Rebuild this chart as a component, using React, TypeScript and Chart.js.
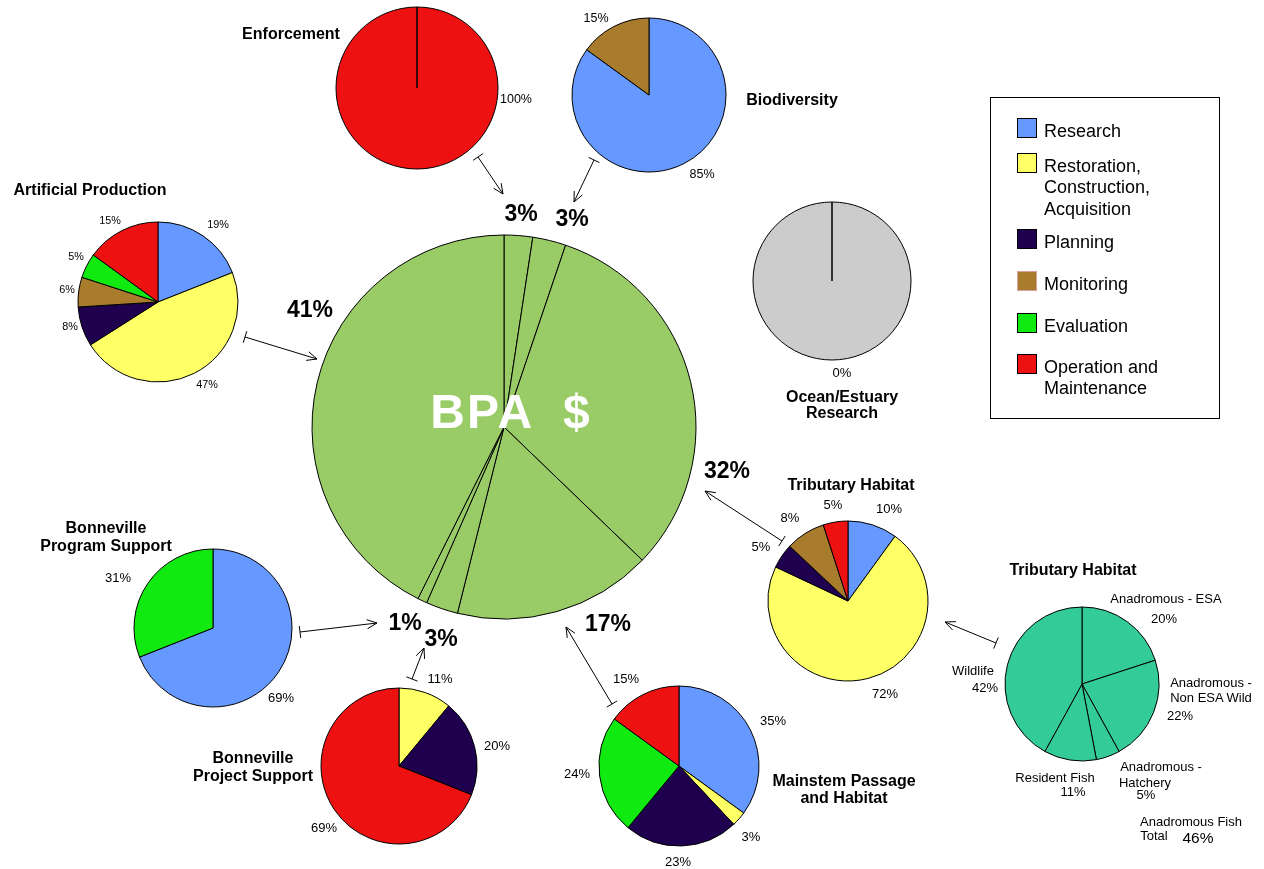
import React, { useEffect, useRef } from "react";
import { Chart, registerables } from "chart.js";

Chart.register(...registerables);

// ---------------- DATA ----------------
const activityCategories = [
  "Research",
  "Restoration, Construction, Acquisition",
  "Planning",
  "Monitoring",
  "Evaluation",
  "Operation and Maintenance",
];
const activityLegendText = [
  "Research",
  "Restoration,\nConstruction,\nAcquisition",
  "Planning",
  "Monitoring",
  "Evaluation",
  "Operation and\nMaintenance",
];
const activityColors = ["#6699FF", "#FFFF66", "#1F004F", "#A87C2C", "#10EA10", "#EE1111"];

// Share of BPA $ by program (clockwise from 12 o'clock)
const mainCategories = [
  "Enforcement",
  "Biodiversity",
  "Tributary Habitat",
  "Mainstem Passage and Habitat",
  "Bonneville Project Support",
  "Bonneville Program Support",
  "Artificial Production",
];
const mainValues = [2.4, 2.8, 32.0, 16.7, 2.7, 0.8, 42.6];
const mainLabels = ["3%", "3%", "32%", "17%", "3%", "1%", "41%"];

const enforcementCats = ["Operation and Maintenance"];
const enforcementValues = [100];

const biodiversityCats = ["Research", "Monitoring"];
const biodiversityValues = [85, 15];

const oceanCats = ["Research"];
const oceanValues = [0];

const artificialCats = [
  "Research",
  "Restoration, Construction, Acquisition",
  "Planning",
  "Monitoring",
  "Evaluation",
  "Operation and Maintenance",
];
const artificialValues = [19, 47, 8, 6, 5, 15];

const programSupportCats = ["Research", "Evaluation"];
const programSupportValues = [69, 31];

const projectSupportCats = ["Restoration, Construction, Acquisition", "Planning", "Operation and Maintenance"];
const projectSupportValues = [11, 20, 69];

const mainstemCats = [
  "Research",
  "Restoration, Construction, Acquisition",
  "Planning",
  "Evaluation",
  "Operation and Maintenance",
];
const mainstemValues = [35, 3, 23, 24, 15];

const tributaryCats = [
  "Research",
  "Restoration, Construction, Acquisition",
  "Planning",
  "Monitoring",
  "Operation and Maintenance",
];
const tributaryValues = [10, 72, 5, 8, 5];

const fishCategories = [
  "Anadromous - ESA",
  "Anadromous - Non ESA Wild",
  "Anadromous - Hatchery",
  "Resident Fish",
  "Wildlife",
];
const fishValues = [20, 22, 5, 11, 42];
const anadromousTotal = 46;

// ---------------- STYLE ----------------
const FONT = "'Liberation Sans', Arial, Helvetica, sans-serif";
const MAIN_GREEN = "#99CC66";
const FISH_TEAL = "#33CC99";
const EMPTY_GRAY = "#CCCCCC";

const colorsFor = (cats: string[]) => cats.map((c) => activityColors[activityCategories.indexOf(c)]);
const pct = (v: number) => `${v}%`;

// ---------------- COMPONENTS ----------------
type PieProps = {
  cx: number;
  cy: number;
  r: number;
  labels: string[];
  values: number[];
  colors: string[];
};

function Pie({ cx, cy, r, labels, values, colors }: PieProps) {
  const ref = useRef<HTMLCanvasElement>(null);
  const size = 2 * r + 8;
  useEffect(() => {
    const total = values.reduce((a, b) => a + b, 0);
    const chart = new Chart(ref.current as HTMLCanvasElement, {
      type: "pie",
      data: {
        labels,
        datasets: [
          {
            data: total > 0 ? values : [1],
            backgroundColor: total > 0 ? colors : [EMPTY_GRAY],
            borderColor: "#000000",
            borderWidth: 1,
            radius: r,
          } as any,
        ],
      },
      options: {
        responsive: false,
        animation: false,
        devicePixelRatio: 1,
        events: [],
        layout: { padding: 0 },
        plugins: { legend: { display: false }, tooltip: { enabled: false } },
      },
    });
    return () => chart.destroy();
  }, []);
  return (
    <canvas
      ref={ref}
      width={size}
      height={size}
      style={{ position: "absolute", left: cx - size / 2, top: cy - size / 2, width: size, height: size }}
    />
  );
}

type TxtProps = {
  x: number;
  y: number;
  text: string;
  size?: number;
  bold?: boolean;
  color?: string;
  lh?: number;
  ls?: number;
};
function Txt({ x, y, text, size = 13, bold = false, color = "#000", lh = 1.15, ls = 0 }: TxtProps) {
  return (
    <div
      style={{
        position: "absolute",
        left: x,
        top: y,
        transform: "translate(-50%, -50%)",
        fontFamily: FONT,
        fontSize: size,
        fontWeight: bold ? 700 : 400,
        color,
        whiteSpace: "pre",
        textAlign: "center",
        lineHeight: lh,
        letterSpacing: ls,
      }}
    >
      {text}
    </div>
  );
}

function Arrow({ x1, y1, x2, y2 }: { x1: number; y1: number; x2: number; y2: number }) {
  const dx = x2 - x1;
  const dy = y2 - y1;
  const L = Math.hypot(dx, dy);
  const ux = dx / L;
  const uy = dy / L;
  const px = -uy;
  const py = ux;
  const t = 6;
  const ah = 10;
  const aw = 4.5;
  return (
    <g stroke="#000" strokeWidth={1} fill="none">
      <line x1={x1} y1={y1} x2={x2} y2={y2} />
      <line x1={x1 + px * t} y1={y1 + py * t} x2={x1 - px * t} y2={y1 - py * t} />
      <polyline
        points={`${x2 - ux * ah + px * aw},${y2 - uy * ah + py * aw} ${x2},${y2} ${x2 - ux * ah - px * aw},${
          y2 - uy * ah - py * aw
        }`}
      />
    </g>
  );
}

// ---------------- LAYOUT (positions of pies and texts) ----------------
const pies = {
  main: { cx: 504, cy: 427, r: 192 },
  enforcement: { cx: 417, cy: 88, r: 81 },
  biodiversity: { cx: 649, cy: 95, r: 77 },
  ocean: { cx: 832, cy: 281, r: 79 },
  artificial: { cx: 158, cy: 302, r: 80 },
  program: { cx: 213, cy: 628, r: 79 },
  project: { cx: 399, cy: 766, r: 78 },
  mainstem: { cx: 679, cy: 766, r: 80 },
  tributary: { cx: 848, cy: 601, r: 80 },
  fish: { cx: 1082, cy: 684, r: 77 },
};

const mainLabelPos = [
  [521, 213],
  [572, 218],
  [727, 470],
  [608, 623],
  [441, 638],
  [405, 622],
  [310, 309],
];

const enforcementLabelPos = [[516, 99]];
const biodiversityLabelPos = [
  [702, 174],
  [596, 18],
];
const oceanLabelPos = [[842, 373]];
const artificialLabelPos = [
  [218, 224],
  [207, 384],
  [70, 326],
  [67, 289],
  [76, 256],
  [110, 220],
];
const programLabelPos = [
  [281, 698],
  [118, 578],
];
const projectLabelPos = [
  [440, 679],
  [497, 746],
  [324, 828],
];
const mainstemLabelPos = [
  [773, 721],
  [751, 837],
  [678, 862],
  [577, 774],
  [626, 679],
];
const tributaryLabelPos = [
  [889, 509],
  [885, 694],
  [761, 547],
  [790, 518],
  [833, 505],
];

const titles = [
  { text: "Enforcement", x: 291, y: 34 },
  { text: "Biodiversity", x: 792, y: 100 },
  { text: "Artificial Production", x: 90, y: 190 },
  { text: "Ocean/Estuary\nResearch", x: 842, y: 405, lh: 1.0 },
  { text: "Tributary Habitat", x: 851, y: 485 },
  { text: "Tributary Habitat", x: 1073, y: 570 },
  { text: "Bonneville\nProgram Support", x: 106, y: 537, lh: 1.125 },
  { text: "Bonneville\nProject Support", x: 253, y: 767, lh: 1.125 },
  { text: "Mainstem Passage\nand Habitat", x: 844, y: 790, lh: 1.05 },
];

const arrows = [
  { x1: 478, y1: 157, x2: 503, y2: 194 },
  { x1: 594, y1: 160, x2: 574, y2: 202 },
  { x1: 245, y1: 337, x2: 317, y2: 359 },
  { x1: 782, y1: 541, x2: 705, y2: 491 },
  { x1: 996, y1: 643, x2: 945, y2: 622 },
  { x1: 612, y1: 704, x2: 566, y2: 627 },
  { x1: 300, y1: 632, x2: 377, y2: 623 },
  { x1: 412, y1: 679, x2: 424, y2: 648 },
];

const legendBox = { left: 990, top: 97, width: 230, height: 322 };
const legendRowsY = [132, 167, 243, 285, 327, 368];

// ---------------- APP ----------------
export default function App() {
  const smallLabels = (values: number[], pos: number[][], size: number, key: string) =>
    values.map((v, i) => <Txt key={key + i} x={pos[i][0]} y={pos[i][1]} text={pct(v)} size={size} />);

  return (
    <div
      style={{
        position: "absolute",
        left: 0,
        top: 0,
        width: 1264,
        height: 869,
        overflow: "hidden",
        background: "#FFFFFF",
      }}
    >
      <Pie {...pies.main} labels={mainCategories} values={mainValues} colors={mainValues.map(() => MAIN_GREEN)} />
      <Pie {...pies.enforcement} labels={enforcementCats} values={enforcementValues} colors={colorsFor(enforcementCats)} />
      <Pie {...pies.biodiversity} labels={biodiversityCats} values={biodiversityValues} colors={colorsFor(biodiversityCats)} />
      <Pie {...pies.ocean} labels={oceanCats} values={oceanValues} colors={colorsFor(oceanCats)} />
      <Pie {...pies.artificial} labels={artificialCats} values={artificialValues} colors={colorsFor(artificialCats)} />
      <Pie {...pies.program} labels={programSupportCats} values={programSupportValues} colors={colorsFor(programSupportCats)} />
      <Pie {...pies.project} labels={projectSupportCats} values={projectSupportValues} colors={colorsFor(projectSupportCats)} />
      <Pie {...pies.mainstem} labels={mainstemCats} values={mainstemValues} colors={colorsFor(mainstemCats)} />
      <Pie {...pies.tributary} labels={tributaryCats} values={tributaryValues} colors={colorsFor(tributaryCats)} />
      <Pie {...pies.fish} labels={fishCategories} values={fishValues} colors={fishValues.map(() => FISH_TEAL)} />

      <svg width={1264} height={869} style={{ position: "absolute", left: 0, top: 0 }}>
        {arrows.map((a, i) => (
          <Arrow key={i} {...a} />
        ))}
      </svg>

      {/* Main pie text */}
      <Txt x={511} y={412} text={"BPA  $"} size={48} bold color="#FFFFFF" lh={1} ls={2} />
      {mainLabels.map((t, i) => (
        <Txt key={"m" + i} x={mainLabelPos[i][0]} y={mainLabelPos[i][1]} text={t} size={23} bold lh={1} />
      ))}

      {/* titles */}
      {titles.map((t, i) => (
        <Txt key={"t" + i} x={t.x} y={t.y} text={t.text} size={16} bold lh={t.lh ?? 1.15} />
      ))}

      {/* slice labels */}
      {smallLabels(enforcementValues, enforcementLabelPos, 12.5, "e")}
      {smallLabels(biodiversityValues, biodiversityLabelPos, 12.5, "b")}
      {smallLabels(oceanValues, oceanLabelPos, 13, "o")}
      {smallLabels(artificialValues, artificialLabelPos, 10.8, "a")}
      {smallLabels(programSupportValues, programLabelPos, 13, "p")}
      {smallLabels(projectSupportValues, projectLabelPos, 13, "q")}
      {smallLabels(mainstemValues, mainstemLabelPos, 13, "s")}
      {smallLabels(tributaryValues, tributaryLabelPos, 13, "r")}

      {/* fish pie labels */}
      <Txt x={1166} y={599} text={fishCategories[0]} size={13} />
      <Txt x={1164} y={619} text={pct(fishValues[0])} size={13} />
      <Txt x={1211} y={690} text={"Anadromous -\nNon ESA Wild"} size={13} lh={1.17} />
      <Txt x={1180} y={716} text={pct(fishValues[1])} size={13} />
      <Txt x={1161} y={767} text={"Anadromous -"} size={13} />
      <Txt x={1145} y={783} text={"Hatchery"} size={13} />
      <Txt x={1146} y={795} text={pct(fishValues[2])} size={13} />
      <Txt x={1055} y={778} text={fishCategories[3]} size={13} />
      <Txt x={1073} y={792} text={pct(fishValues[3])} size={13} />
      <Txt x={973} y={671} text={fishCategories[4]} size={13} />
      <Txt x={985} y={688} text={pct(fishValues[4])} size={13} />
      <Txt x={1191} y={822} text={"Anadromous Fish"} size={13} />
      <Txt x={1154} y={836} text={"Total"} size={13} />
      <Txt x={1198} y={838} text={pct(anadromousTotal)} size={15.5} />

      {/* legend */}
      <div
        style={{
          position: "absolute",
          left: legendBox.left,
          top: legendBox.top,
          width: legendBox.width,
          height: legendBox.height,
          border: "1px solid #000",
          boxSizing: "border-box",
          background: "#FFFFFF",
        }}
      />
      {activityLegendText.map((t, i) => (
        <React.Fragment key={"l" + i}>
          <div
            style={{
              position: "absolute",
              left: 1017,
              top: legendRowsY[i] - 14,
              width: 20,
              height: 20,
              boxSizing: "border-box",
              background: activityColors[i],
              border: "1px solid " + (activityCategories[i] === "Monitoring" ? "#D8A0A0" : "#000"),
            }}
          />
          <div
            style={{
              position: "absolute",
              left: 1044,
              top: legendRowsY[i] - 11.5,
              fontFamily: FONT,
              fontSize: 18,
              lineHeight: "21.5px",
              whiteSpace: "pre",
              color: "#000",
            }}
          >
            {t}
          </div>
        </React.Fragment>
      ))}
    </div>
  );
}
